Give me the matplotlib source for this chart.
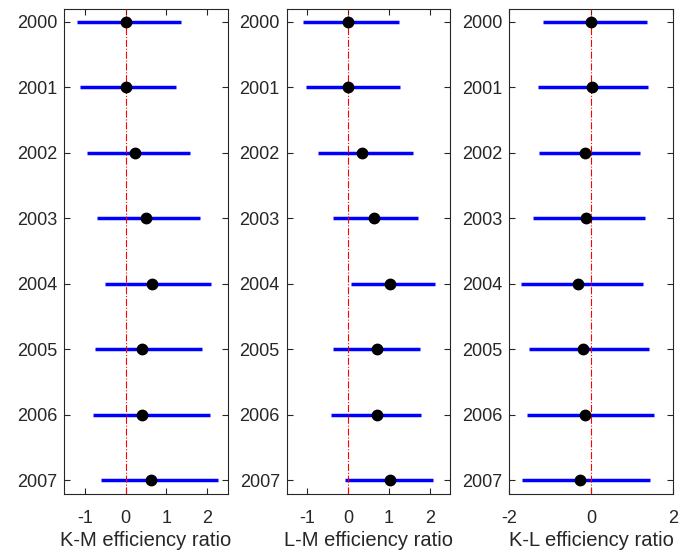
import numpy as np
import matplotlib
matplotlib.use("Agg")
import matplotlib.pyplot as plt

plt.rcParams['font.family'] = ['Liberation Sans', 'DejaVu Sans']
plt.rcParams['axes.unicode_minus'] = False

years = [2000, 2001, 2002, 2003, 2004, 2005, 2006, 2007]

# K-M efficiency ratio
km_mean = [0.00, 0.02, 0.22, 0.50, 0.65, 0.39, 0.41, 0.61]
km_lo = [-1.18, -1.11, -0.95, -0.69, -0.51, -0.75, -0.81, -0.61]
km_hi = [1.36, 1.24, 1.57, 1.83, 2.09, 1.86, 2.06, 2.25]

# L-M efficiency ratio
lm_mean = [0.00, -0.01, 0.33, 0.64, 1.02, 0.72, 0.70, 1.02]
lm_lo = [-1.09, -1.03, -0.73, -0.37, 0.08, -0.37, -0.41, -0.08]
lm_hi = [1.25, 1.26, 1.58, 1.72, 2.12, 1.76, 1.78, 2.08]

# K-L efficiency ratio
kl_mean = [0.00, 0.02, -0.15, -0.12, -0.32, -0.20, -0.16, -0.27]
kl_lo = [-1.18, -1.29, -1.27, -1.42, -1.72, -1.53, -1.56, -1.70]
kl_hi = [1.37, 1.40, 1.19, 1.31, 1.27, 1.41, 1.55, 1.44]

panels = [
    ("K-M efficiency ratio", km_mean, km_lo, km_hi, (-1.5, 2.5), [-1, 0, 1, 2]),
    ("L-M efficiency ratio", lm_mean, lm_lo, lm_hi, (-1.5, 2.5), [-1, 0, 1, 2]),
    ("K-L efficiency ratio", kl_mean, kl_lo, kl_hi, (-2, 2), [-2, 0, 2]),
]

fig = plt.figure(figsize=(6.79, 5.57), dpi=100)
gray = (0.15, 0.15, 0.15)

lefts = [64.3, 286.7, 509.3]
for (label, mean, lo, hi, xlim, xt), left in zip(panels, lefts):
    ax = fig.add_axes([left / 679, (557 - 493.5) / 557, 163.5 / 679, 485 / 557])
    ax.hlines(years, lo, hi, color=(0, 0, 1), lw=2.5, zorder=2)
    ax.axvline(0, color='red', lw=0.8, ls='-.', zorder=3)
    ax.plot(mean, years, 'o', color='black', markersize=7.5, zorder=4)
    ax.set_xlim(*xlim)
    ax.set_ylim(2007.2, 1999.8)
    ax.set_xticks(xt)
    ax.set_yticks(years)
    ax.tick_params(direction='in', length=4, width=0.8, top=True, right=True,
                   labelsize=13, colors=gray, pad=5)
    ax.tick_params(axis='x', pad=12)
    for s in ax.spines.values():
        s.set_color(gray)
        s.set_linewidth(0.8)
    ax.set_xlabel(label, fontsize=14.5, color=gray, labelpad=3)

fig.savefig("out.png", dpi=100)
